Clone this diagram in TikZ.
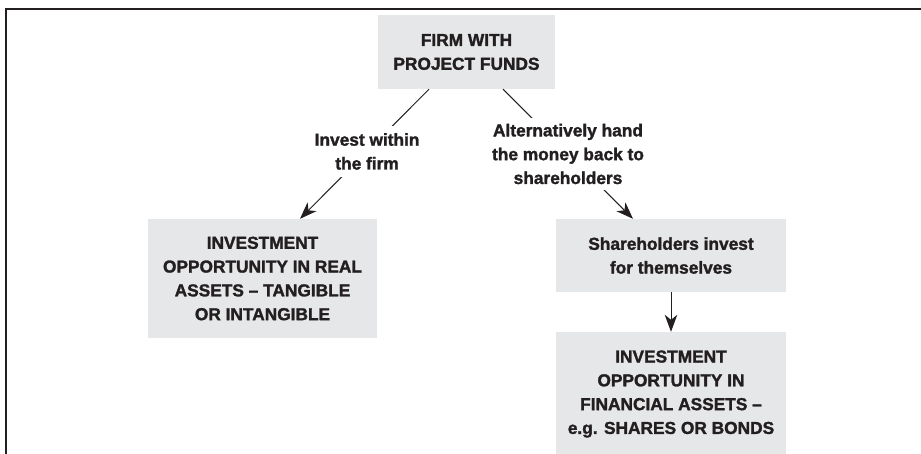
\documentclass[tikz,border=0pt]{standalone}
\usepackage{fontspec}
\setmainfont{Liberation Sans}[BoldFeatures={FakeBold=1.6}]
\usetikzlibrary{arrows.meta}
\definecolor{boxgray}{HTML}{E6E7E8}
\definecolor{ink}{HTML}{231F20}
\begin{document}
\begin{tikzpicture}[x=1pt,y=-1pt,
  every node/.style={font=\fontsize{17.3}{23.8}\selectfont\bfseries, text=ink},
  graybox/.style={fill=boxgray, draw=none, align=center, inner sep=0pt},
  lbl/.style={fill=white, align=center, inner sep=7pt},
  conn/.style={draw=ink, line width=1pt},
  arr/.style={conn, -{Stealth[length=17pt,width=12.5pt,inset=5pt]}}
]
\useasboundingbox (0,0) rectangle (921,453);
\draw[line width=2pt, draw=ink] (6,460) -- (6,9) -- (925,9);

\node[graybox, minimum width=177pt, minimum height=74pt] (top) at (466.5,52) {FIRM WITH\\PROJECT FUNDS};
\node[graybox, minimum width=229pt, minimum height=119pt] (left) at (262.5,278.5) {INVESTMENT\\OPPORTUNITY IN REAL\\ASSETS -- TANGIBLE\\OR INTANGIBLE};
\node[graybox, minimum width=230pt, minimum height=73pt] (mid) at (671,255.5) {Shareholders invest\\for themselves};
\node[graybox, minimum width=230pt, minimum height=124pt] (fin) at (671,394) {INVESTMENT\\OPPORTUNITY IN\\FINANCIAL ASSETS --\\e.g. SHARES OR BONDS};

\draw[arr] ([xshift=-37.5pt]top.south) -- node[lbl, pos=0.48] (lab1) {Invest within\\the firm} ([xshift=37.5pt]left.north);
\draw[arr] ([xshift=36.5pt]top.south) -- node[lbl, pos=0.5, inner sep=6pt] (lab2) {Alternatively hand\\the money back to\\shareholders} ([xshift=-38pt]mid.north);
\draw[arr] (mid.south) -- (fin.north);
\end{tikzpicture}
\end{document}
